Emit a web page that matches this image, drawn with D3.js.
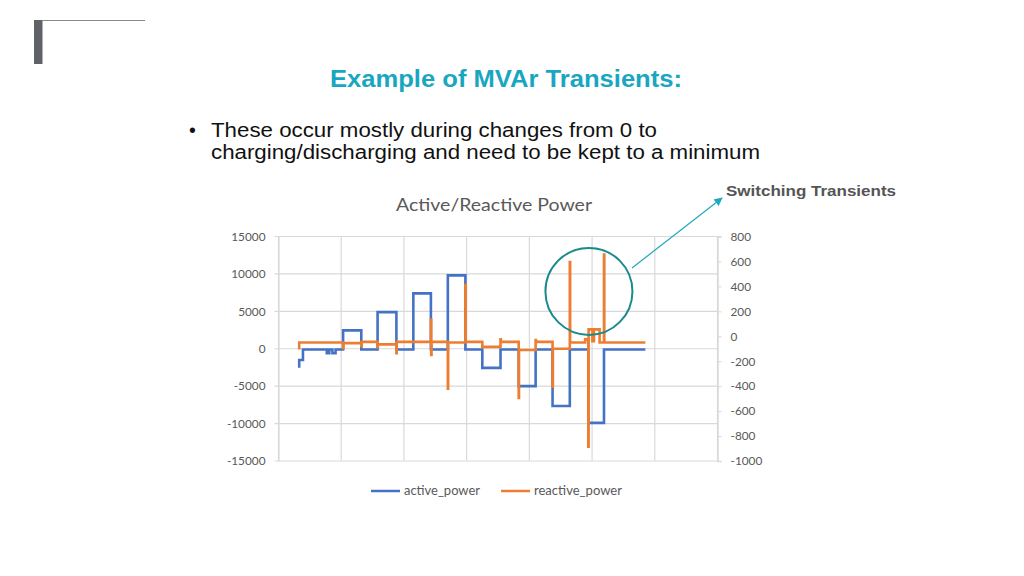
<!DOCTYPE html>
<html><head><meta charset="utf-8">
<script src="https://cdn.jsdelivr.net/npm/d3@7/dist/d3.min.js"></script>
<style>html,body{margin:0;padding:0;background:#fff;}svg{display:block;}</style>
</head><body>
<svg id="c" width="1024" height="576"></svg>
<script>
// ---- data ----
const title = "Example of MVAr Transients:";
const bulletLines = ["These occur mostly during changes from 0 to", "charging/discharging and need to be kept to a minimum"];
const chartTitle = "Active/Reactive Power";
const calloutLabel = "Switching Transients";
const seriesNames = ["active_power", "reactive_power"];
const leftTicks = [-15000, -10000, -5000, 0, 5000, 10000, 15000];
const rightTicks = [-1000, -800, -600, -400, -200, 0, 200, 400, 600, 800];
const xGrid = [0, 100, 200, 300, 400, 500, 600, 700];

const activeT = [31, 33, 39, 77, 81, 86, 91, 103, 132, 158, 188, 215, 243, 270, 298, 325, 354, 383, 410, 437, 464.5, 494, 519, 585];
const activeV = [-2350, -1500, -100, -600, -100, -600, -100, 2450, -100, 4900, -100, 7400, -100, 9800, -100, -2550, -100, -5000, -100, -7650, -100, -9900, -100, -100];

const reactiveT = [31, 33, 103, 103.5, 132, 132.5, 158, 158.5, 188, 188.5, 215, 243, 243.5, 244, 270, 270.5, 298, 298.5, 325, 354, 354.5, 383, 383.5, 410, 410.5, 437, 437.5, 464.5, 465, 489, 494, 494.5, 500.5, 503, 512, 519, 519.5, 585];
const reactiveV = [-95, -50, -95, -55, -80, -45, -90, -65, -135, -45, -45, 135, -150, -45, -420, -50, 410, -45, -85, -25, -45, -495, -110, -30, -45, -405, -100, 595, -50, -25, -885, 55, -40, 55, -50, 655, -50, -50];

// ---- drawing ----
const svg = d3.select("#c");
const blue = "#4472c4", orange = "#ed7d31", grid = "#d9d9d9", txt = "#595959";
const sans = "Liberation Sans, Arial, sans-serif";
const cal = "Lato, Open Sans, sans-serif";

function stretched(sel, len) {
  return sel.attr("textLength", len).attr("lengthAdjust", "spacingAndGlyphs");
}

// slide decoration
svg.append("rect").attr("x", 34).attr("y", 20).attr("width", 8.5).attr("height", 44).attr("fill", "#5f6368");
svg.append("line").attr("x1", 42).attr("x2", 145).attr("y1", 20.5).attr("y2", 20.5).attr("stroke", "#8a8a8a").attr("stroke-width", 1);

stretched(svg.append("text").attr("x", 330).attr("y", 87)
  .attr("font-family", sans).attr("font-weight", "bold")
  .attr("font-size", 23).attr("fill", "#19a6c1").text(title), 352);

svg.append("text").attr("x", 189).attr("y", 137).attr("font-family", sans)
  .attr("font-size", 19.5).attr("fill", "#111").text("\u2022");
const bulletLens = [446, 549];
bulletLines.forEach((l, i) => {
  stretched(svg.append("text").attr("x", 211).attr("y", 137 + i * 21.5).attr("font-family", sans)
    .attr("font-size", 19.5).attr("fill", "#111").text(l), bulletLens[i]);
});

stretched(svg.append("text").attr("x", 726).attr("y", 196).attr("font-family", sans)
  .attr("font-weight", "bold").attr("font-size", 15.5).attr("fill", "#555").text(calloutLabel), 170);

// chart
const L = 278.5, R = 717.5, T = 236.5, B = 461;
const x = d3.scaleLinear().domain([0, 700]).range([L, R]);
const yL = d3.scaleLinear().domain([-15000, 15000]).range([B, T]);
const yR = d3.scaleLinear().domain([-1000, 800]).range([B, T]);

stretched(svg.append("text").attr("x", 396).attr("y", 211)
  .attr("font-family", cal).attr("font-size", 17.5).attr("fill", txt).text(chartTitle), 196);

const g = svg.append("g");
g.selectAll(".hg").data(leftTicks).enter().append("line")
  .attr("x1", L - 4).attr("x2", R).attr("y1", d => yL(d)).attr("y2", d => yL(d))
  .attr("stroke", grid).attr("stroke-width", 1.2);
g.selectAll(".vg").data(xGrid).enter().append("line")
  .attr("x1", d => x(d)).attr("x2", d => x(d)).attr("y1", T).attr("y2", B)
  .attr("stroke", grid).attr("stroke-width", 1.2);

// left axis labels
const leftAxis = d3.axisLeft(yL).tickValues(leftTicks).tickSize(0).tickPadding(13).tickFormat(d => String(d));
const la = svg.append("g").attr("transform", `translate(${L},0)`).call(leftAxis);
la.select(".domain").attr("stroke", grid).attr("stroke-width", 1.2);
la.selectAll("text").attr("font-family", cal).attr("font-size", 11.8).attr("fill", txt);

// right axis
const rightAxis = d3.axisRight(yR).tickValues(rightTicks).tickSize(4).tickPadding(9).tickFormat(d => String(d));
const ra = svg.append("g").attr("transform", `translate(${R},0)`).call(rightAxis);
ra.select(".domain").attr("stroke", grid).attr("stroke-width", 1.5);
ra.selectAll("line").attr("stroke", grid);
ra.selectAll("text").attr("font-family", cal).attr("font-size", 11.8).attr("fill", txt);

// series
const activeData = activeT.map((t, i) => [t, activeV[i]]);
const reactiveData = reactiveT.map((t, i) => [t, reactiveV[i]]);
const lineA = d3.line().x(d => x(d[0])).y(d => yL(d[1])).curve(d3.curveStepAfter);
const lineR = d3.line().x(d => x(d[0])).y(d => yR(d[1])).curve(d3.curveStepAfter);
svg.append("path").attr("d", lineA(activeData)).attr("fill", "none").attr("stroke", blue).attr("stroke-width", 2.6);
svg.append("path").attr("d", lineR(reactiveData)).attr("fill", "none").attr("stroke", orange).attr("stroke-width", 2.6);

// legend
const lg = svg.append("g");
[[371, blue, seriesNames[0], 76], [501, orange, seriesNames[1], 88]].forEach(([lx, c, n, w]) => {
  lg.append("line").attr("x1", lx).attr("x2", lx + 29).attr("y1", 491).attr("y2", 491).attr("stroke", c).attr("stroke-width", 2.5);
  stretched(lg.append("text").attr("x", lx + 33).attr("y", 495).attr("font-family", cal)
    .attr("font-size", 12.5).attr("fill", txt).text(n), w);
});

// annotation circle + arrow
const defs = svg.append("defs");
defs.append("marker").attr("id", "ah").attr("viewBox", "0 0 10 10").attr("refX", 9).attr("refY", 5)
  .attr("markerWidth", 7).attr("markerHeight", 7).attr("orient", "auto")
  .append("path").attr("d", "M0,0L10,5L0,10z").attr("fill", "#1fa8bf");
svg.append("circle").attr("cx", x(495)).attr("cy", yR(360)).attr("r", 43.5)
  .attr("fill", "none").attr("stroke", "#1a8a8c").attr("stroke-width", 2);
svg.append("line").attr("x1", 632).attr("y1", 268).attr("x2", 722).attr("y2", 198)
  .attr("stroke", "#1fa8bf").attr("stroke-width", 1.2).attr("marker-end", "url(#ah)");
</script>
</body></html>
